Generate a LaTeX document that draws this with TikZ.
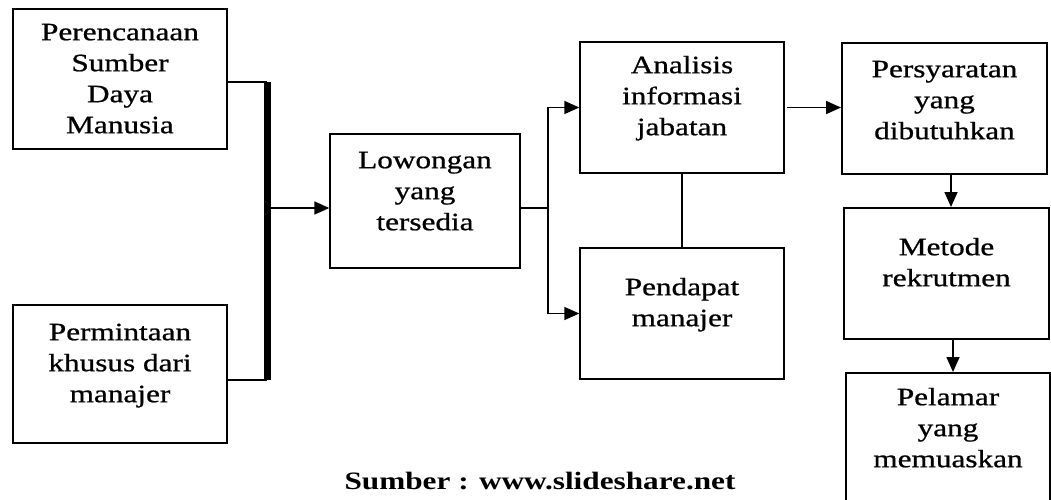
\documentclass[tikz,border=0pt]{standalone}
\usepackage{fontspec}
\setmainfont{Liberation Serif}[FakeStretch=1.25, FakeBold=0.8]
\newfontfamily\srcfont{Liberation Serif Bold}[FakeStretch=1.25]
\usetikzlibrary{arrows.meta}
\tikzset{
  box/.style={draw, line width=1.4pt, inner sep=0pt},
  boxb/.style={draw, line width=2pt, inner sep=0pt},
  txt/.style={anchor=north, inner sep=0pt, align=center, font=\fontsize{25}{31}\selectfont},
  conn/.style={line width=1.6pt},
  arr/.style={line width=1.6pt, -{Triangle[length=15pt,width=13pt]}},
}
\begin{document}
\begin{tikzpicture}[x=1pt,y=-1pt]
\useasboundingbox (0,0) rectangle (1051,499);
% boxes
\node[box, minimum width=214pt, minimum height=140pt] (b1) at (120,79) {};
\node[box, minimum width=214pt, minimum height=138pt] (b2) at (120,374) {};
\node[box, minimum width=190pt, minimum height=134pt] (low) at (425,201) {};
\node[box, minimum width=204pt, minimum height=131pt] (ana) at (682,107.5) {};
\node[box, minimum width=204pt, minimum height=131pt] (pen) at (682,313.5) {};
\node[boxb, minimum width=205pt, minimum height=131pt] (pers) at (944.5,108.5) {};
\node[boxb, minimum width=205pt, minimum height=131pt] (met) at (946.5,273.5) {};
\node[boxb, minimum width=204pt, minimum height=160pt] (pel) at (948,453) {};
% texts
\node[txt] (t1) at (120,18.3) {\strut Perencanaan\\Sumber\\Daya\\Manusia};
\node[txt] (t2) at (120,318.3) {\strut Permintaan\\khusus dari\\manajer};
\node[txt] (tl) at (425,146.3) {\strut Lowongan\\yang\\tersedia};
\node[txt] (ta) at (682,51.3) {\strut Analisis\\informasi\\jabatan};
\node[txt] (tp) at (682,273.3) {\strut Pendapat\\manajer};
\node[txt] (tpe) at (944.5,55.3) {\strut Persyaratan\\yang\\dibutuhkan};
\node[txt] (tm) at (946.5,233.3) {\strut Metode\\rekrutmen};
\node[txt] (tpl) at (948,383.3) {\strut Pelamar\\yang\\memuaskan};
\node[anchor=base, inner sep=0pt, font=\fontsize{25}{31}\srcfont] (src) at (540,489) {Sumber : www.slideshare.net};
% bar
\coordinate (bartop) at (267,82);
\coordinate (barbot) at (267,380);
\draw[line width=7pt] (bartop) -- (barbot);
\draw[conn] ([yshift=-3pt]b1.east) -- (bartop);
\draw[conn] ([yshift=-6pt]b2.east) -- (barbot);
\draw[arr] (bartop |- 0,208) -- ([yshift=-7pt]low.west);
% branch
\coordinate (br) at (548,208);
\draw[conn] ([yshift=-7pt]low.east) -- (br);
\draw[arr] (br) |- (ana.west);
\draw[arr] (br) |- (pen.west);
\draw[line width=2.2pt] (ana.south) -- (pen.north);
\draw[arr, shorten <=2pt] (ana.east) -- (ana.east -| pers.west);
\draw[arr] ([xshift=6.5pt]pers.south) -- ([xshift=6.5pt]pers.south |- met.north);
\draw[arr] ([xshift=6.5pt]met.south) -- ([xshift=6.5pt]met.south |- pel.north);
\end{tikzpicture}
\end{document}
